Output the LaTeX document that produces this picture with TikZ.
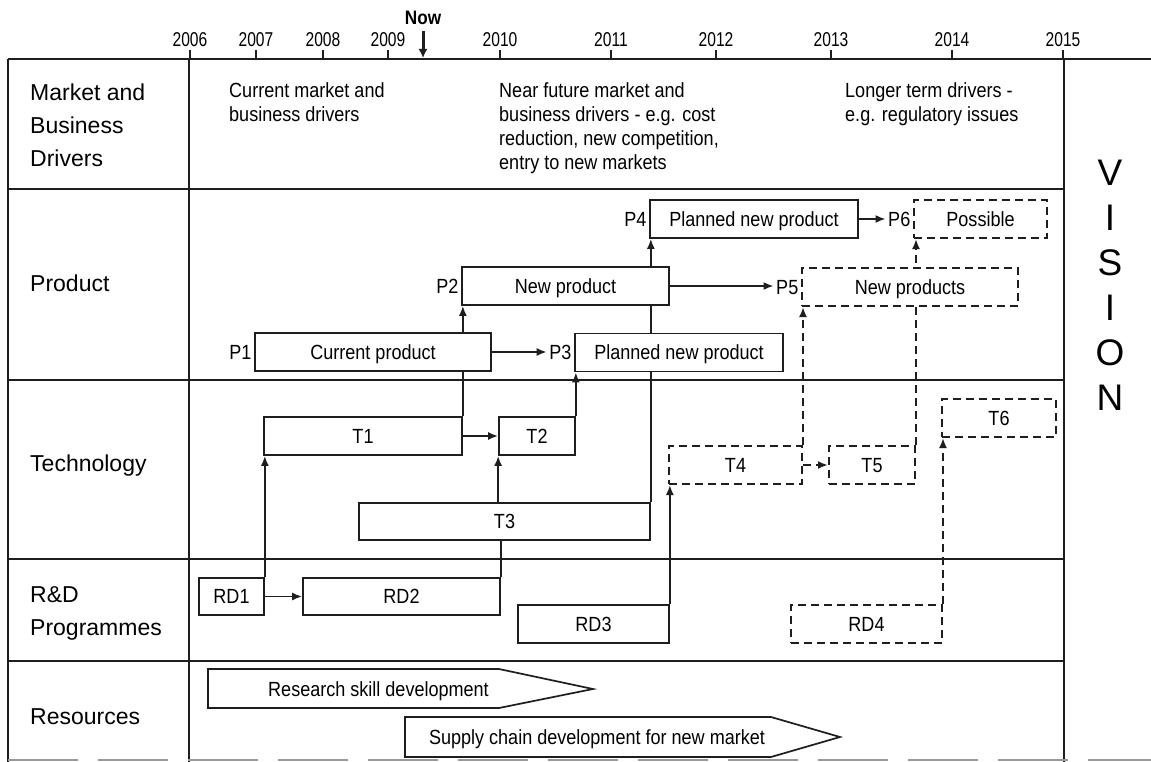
\documentclass[tikz,border=0pt]{standalone}
\usepackage{fontspec}
\setmainfont{Liberation Sans}
\newfontfamily\cond[FakeStretch=0.88]{Liberation Sans}
\newfontfamily\condy[FakeStretch=0.78]{Liberation Sans}
\usetikzlibrary{arrows.meta,backgrounds}
\definecolor{ink}{HTML}{1E1E1E}
\newcommand\fpx[2]{\fontsize{#1}{#2}\selectfont}
\begin{document}
\begin{tikzpicture}[x=1pt,y=-1pt,
 grid/.style={draw=ink, line width=2.2pt},
 box/.style={draw=ink, line width=1.7pt, fill=white, inner sep=0pt, minimum height=38pt, text height=14.7pt, text depth=0pt, font=\cond\fpx{20.5}{24}},
 dbox/.style={box, line width=2pt, dash pattern=on 8pt off 5pt},
 plbl/.style={inner sep=2.5pt, text height=14.7pt, text depth=0pt, font=\cond\fpx{20.5}{24}},
 conn/.style={draw=ink, line width=1.8pt},
 arr/.style={conn, -{Latex[length=10pt,width=8pt]}},
 darr/.style={arr, line width=2pt, dash pattern=on 8pt off 5pt},
 rowlbl/.style={inner sep=0pt, anchor=north west, align=left, font=\fpx{23}{33}},
 rowone/.style={inner sep=0pt, anchor=base west, font=\fpx{23}{33}},
 mkt/.style={inner sep=0pt, anchor=north west, align=left, font=\cond\fpx{20.5}{24}},
 year/.style={inner sep=0pt, font=\condy\fpx{20}{22}},
 res/.style={draw=ink, line width=1.7pt, fill=white},
 restxt/.style={inner sep=0pt, text height=14.7pt, text depth=0pt, font=\cond\fpx{20.5}{24}},
 vis/.style={inner sep=0pt, font=\fpx{37}{45}},
]
\useasboundingbox (0,0) rectangle (1151,762);

% timeline
\foreach \x/\yr in {190/2006,256/2007,323/2008,388/2009,500/2010,611/2011,716/2012,831/2013,952/2014,1063/2015}{
  \node[year] (y\yr) at (\x,40) {\yr};
  \draw[conn] (\x,50) -- (\x,59);
}
\node[inner sep=0pt, font=\cond\bfseries\fpx{19.5}{22}] (now) at (423,18) {Now};
\coordinate (nowtip) at (423,58);
\draw[draw=ink, line width=3pt, -{Latex[length=9pt,width=9pt]}] ([yshift=-6pt]now.south) -- (nowtip);

% row labels
\node[rowlbl] (lmkt) at (30,84) {Market and\\Business\\Drivers};
\node[rowone] (lprod) at (30,291) {Product};
\node[rowone] (ltech) at (30,471) {Technology};
\node[rowlbl] (lrd) at (30,586.6) {R\&D\\Programmes};
\node[rowone] (lres) at (30,724) {Resources};

% market texts
\node[mkt] (m1) at (229,82) {Current market and\\business drivers};
\node[mkt] (m2) at (499,82) {Near future market and\\business drivers - e.g. cost\\reduction, new competition,\\entry to new markets};
\node[mkt] (m3) at (845,82) {Longer term drivers -\\e.g. regulatory issues};

% products
\node[box, minimum width=236pt] (P1) at (373,352) {Current product};
\node[box, minimum width=207pt] (P2) at (565.5,286) {New product};
\node[box, minimum width=208pt] (P3) at (679,352.5) {Planned new product};
\node[box, minimum width=208pt] (P4) at (754,219) {Planned new product};
\node[dbox, minimum width=216pt] (P5) at (910,287) {New products};
\node[dbox, minimum width=133pt] (P6) at (980.5,219) {Possible};
\node[plbl, anchor=east] (lP1) at (P1.west) {P1};
\node[plbl, anchor=east] (lP2) at (P2.west) {P2};
\node[plbl, anchor=east] (lP3) at (P3.west) {P3};
\node[plbl, anchor=east] (lP4) at (P4.west) {P4};
\node[plbl, anchor=east] (lP5) at (P5.west) {P5};
\node[plbl, anchor=east] (lP6) at (P6.west) {P6};

% technology
\node[box, minimum width=198pt] (T1) at (363,436) {T1};
\node[box, minimum width=76pt] (T2) at (537,436) {T2};
\node[box, minimum width=291pt, minimum height=37pt] (T3) at (504.5,521.5) {T3};
\node[dbox, minimum width=133pt] (T4) at (735.5,465) {T4};
\node[dbox, minimum width=86pt] (T5) at (872,465) {T5};
\node[dbox, minimum width=114pt] (T6) at (999,418) {T6};

% R&D
\node[box, minimum width=65pt, minimum height=37pt] (RD1) at (231.5,596.5) {RD1};
\node[box, minimum width=197pt, minimum height=37pt] (RD2) at (401.5,596.5) {RD2};
\node[box, minimum width=151pt] (RD3) at (593.5,624) {RD3};
\node[dbox, minimum width=151pt] (RD4) at (866.5,624) {RD4};

% resources
\draw[res] (208,669) -- (499,669) -- (593,689) -- (499,708) -- (208,708) -- cycle;
\node[restxt] (r1) at (378.5,689) {Research skill development};
\draw[res] (405,717) -- (771,717) -- (840,737) -- (771,757) -- (405,757) -- cycle;
\node[restxt] (r2) at (597,737) {Supply chain development for new market};

% vision
\node[vis, align=center, anchor=north] (vision) at (1110,160) {V\\I\\S\\I\\O\\N};

\begin{scope}[on background layer]
  \fill[white] (0,0) rectangle (1151,762);
  \draw[grid] (8,59) -- (1151,59);
  \draw[grid] (8,59) -- (8,762);
  \draw[grid] (189,59) -- (189,762);
  \draw[grid] (1064,59) -- (1064,762);
  \draw[grid] (8,189) -- (1064,189);
  \draw[grid] (8,380) -- (1064,380);
  \draw[grid] (8,559) -- (1064,559);
  \draw[grid] (8,661) -- (1064,661);
  \draw[grid, draw=ink!45, dash pattern=on 70pt off 20pt] (8,760) -- (1151,760);
  % connectors
  \draw[arr] (P1.east) -- (P1.east -| lP3.west);
  \draw[arr] (P2.east) -- (P2.east -| lP5.west);
  \draw[arr] (P4.east) -- (P4.east -| lP6.west);
  \draw[arr] (T1.north east) -- (T1.north east |- P2.south);
  \draw[arr] (T2.north east) -- (T2.north east |- P3.south);
  \draw[arr] (T3.north east) -- (T3.north east |- P4.south);
  \draw[arr] (T1.east) -- (T2.west);
  \draw[arr] (T3.north -| T2.south west) -- (T2.south west);
  \draw[arr] (RD1.north east) -- (RD1.north east |- T1.south);
  \draw[arr] (RD1.east) -- (RD2.west);
  \draw[conn] (RD2.north east) -- (RD2.north east |- T3.south);
  \draw[arr] (RD3.north east) -- (RD3.north east |- T4.south);
  \draw[darr] (T4.north east) -- (T4.north east |- P5.south);
  \draw[darr] (T4.east) -- (T5.west);
  \draw[darr] (T5.north east) -- (T5.north east |- P6.south);
  \draw[darr] (RD4.north east) -- (RD4.north east |- T6.south);
\end{scope}
\end{tikzpicture}
\end{document}
